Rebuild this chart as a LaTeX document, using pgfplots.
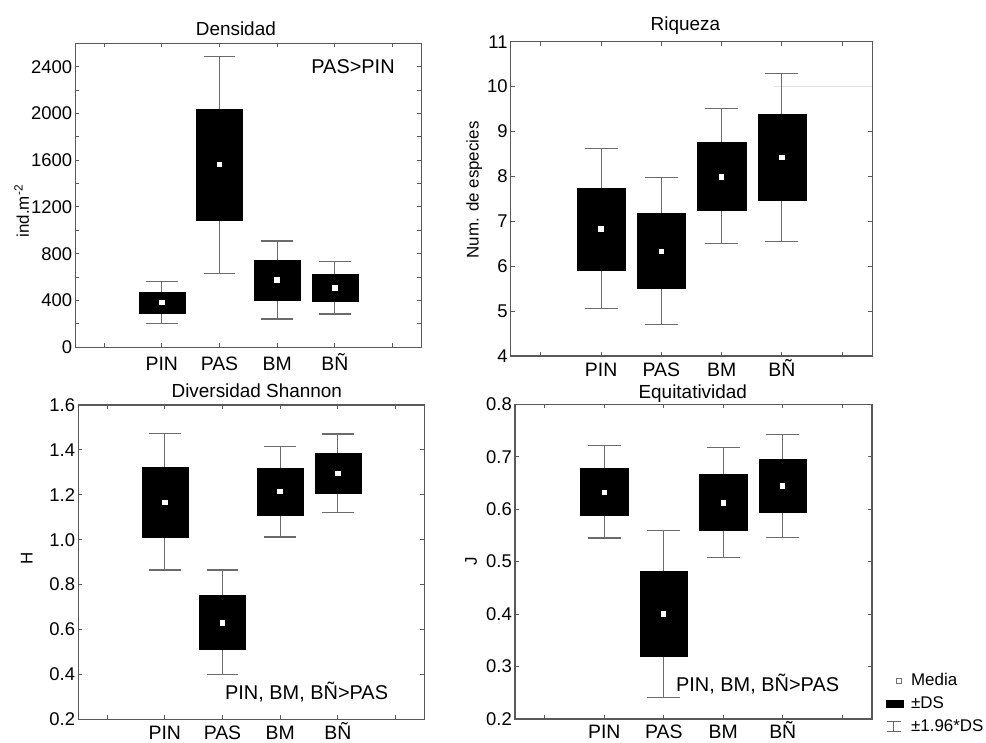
\documentclass[border=0pt]{standalone}
\usepackage{fontspec}
\setmainfont{Liberation Sans}
\usepackage{pgfplots}
\pgfplotsset{compat=1.18}

\definecolor{framegray}{gray}{0.35}
\definecolor{whiskgray}{gray}{0.42}

\tikzset{annot/.style={anchor=base west, inner sep=0pt, font=\fontsize{20}{22}\selectfont}}

\pgfplotsset{
  panel/.style={
    scale only axis, anchor=south west,
    xmin=-0.5, xmax=5.5,
    xtick={0,1,2,3,4,5},
    xticklabels={,PIN,PAS,BM,BÑ,},
    tick align=inside, tick pos=both,
    major tick length=4bp, minor tick length=4bp,
    axis line style={draw=framegray, line width=1.1bp},
    tick style={draw=framegray, line width=1bp},
    xticklabel style={font=\fontsize{19.5}{21}\selectfont, inner sep=0pt, text height=14bp, text depth=0pt},
    yticklabel style={font=\fontsize{18.5}{20}\selectfont, inner sep=0pt, xshift=-3bp},
    ylabel style={font=\fontsize{17}{19}\selectfont, anchor=center},
    every axis title/.style={font=\fontsize{19}{21}\selectfont, anchor=base},
    unbounded coords=jump,
    clip=false,
  },
  whisk/.style={draw=whiskgray, line width=1.1bp, mark=none},
  box/.style={draw=black, fill=black, line width=0.4bp, mark=none},
  meanmark/.style={only marks, mark=square*, mark size=2.2bp, mark options={fill=white, draw=white, line width=0pt}},
}

\begin{document}
\begin{tikzpicture}
\path[use as bounding box] (0,0) rectangle (986bp,743bp);

% ---------------- Densidad ----------------
\begin{axis}[panel, at={(75.3bp,395.7bp)}, width=346bp, height=304bp,
  ymin=0, ymax=2600,
  ytick={0,400,800,1200,1600,2000,2400}, yticklabels={0,400,800,1200,1600,2000,2400},
  minor ytick={200,600,1000,1400,1800,2200},
  xticklabel style={yshift=-9.4bp},
  ylabel={ind.m\textsuperscript{-2}}, ylabel style={at={(axis description cs:-0.155,0.448)}},
  title={Densidad}, title style={at={(axis description cs:0.464,1.027)}}]
% whiskers (+-1.96*DS)
\addplot[whisk] coordinates {
 (0.725,561) (1.275,561) (nan,nan) (1,561) (1,205) (nan,nan) (0.725,205) (1.275,205) (nan,nan)
 (1.725,2490) (2.275,2490) (nan,nan) (2,2490) (2,632) (nan,nan) (1.725,632) (2.275,632) (nan,nan)
 (2.725,909) (3.275,909) (nan,nan) (3,909) (3,242) (nan,nan) (2.725,242) (3.275,242) (nan,nan)
 (3.725,735) (4.275,735) (nan,nan) (4,735) (4,285) (nan,nan) (3.725,285) (4.275,285)};
% boxes (+-DS)
\addplot[box] coordinates {(0.6,291) (1.4,291) (1.4,475) (0.6,475)} --cycle;
\addplot[box] coordinates {(1.6,1088) (2.4,1088) (2.4,2040) (1.6,2040)} --cycle;
\addplot[box] coordinates {(2.6,404) (3.4,404) (3.4,746) (2.6,746)} --cycle;
\addplot[box] coordinates {(3.6,390) (4.4,390) (4.4,621) (3.6,621)} --cycle;
% means
\addplot[meanmark] coordinates {(1,385) (2,1565) (3,575) (4,507)};
\node[annot] at (axis cs:3.591,2343) {PAS>PIN};
\end{axis}

% ---------------- Riqueza ----------------
\begin{axis}[panel, at={(510.7bp,387bp)}, width=361.6bp, height=314.3bp,
  ymin=4, ymax=11,
  ytick={4,5,6,7,8,9,10,11}, yticklabels={4,5,6,7,8,9,10,11},
  xticklabel style={yshift=-6bp},
  ylabel={Num. de especies}, ylabel style={at={(axis description cs:-0.1007,0.528)}},
  title={Riqueza}, title style={at={(axis description cs:0.483,1.035)}}]
\addplot[black!12, line width=0.8bp, mark=none] coordinates {(3.87,10) (5.5,10)};
\addplot[whisk] coordinates {
 (0.725,8.62) (1.275,8.62) (nan,nan) (1,8.62) (1,5.05) (nan,nan) (0.725,5.05) (1.275,5.05) (nan,nan)
 (1.725,7.98) (2.275,7.98) (nan,nan) (2,7.98) (2,4.71) (nan,nan) (1.725,4.71) (2.275,4.71) (nan,nan)
 (2.725,9.52) (3.275,9.52) (nan,nan) (3,9.52) (3,6.50) (nan,nan) (2.725,6.50) (3.275,6.50) (nan,nan)
 (3.725,10.30) (4.275,10.30) (nan,nan) (4,10.30) (4,6.55) (nan,nan) (3.725,6.55) (4.275,6.55)};
\addplot[box] coordinates {(0.6,5.92) (1.4,5.92) (1.4,7.74) (0.6,7.74)} --cycle;
\addplot[box] coordinates {(1.6,5.50) (2.4,5.50) (2.4,7.18) (1.6,7.18)} --cycle;
\addplot[box] coordinates {(2.6,7.24) (3.4,7.24) (3.4,8.77) (2.6,8.77)} --cycle;
\addplot[box] coordinates {(3.6,7.46) (4.4,7.46) (4.4,9.38) (3.6,9.38)} --cycle;
\addplot[meanmark] coordinates {(1,6.83) (2,6.33) (3,7.99) (4,8.42)};
\end{axis}

% ---------------- Diversidad Shannon ----------------
\begin{axis}[panel, at={(78.3bp,23.7bp)}, width=346bp, height=314.3bp,
  ymin=0.2, ymax=1.6,
  ytick={0.2,0.4,0.6,0.8,1.0,1.2,1.4,1.6}, yticklabels={0.2,0.4,0.6,0.8,1.0,1.2,1.4,1.6},
  xticklabel style={yshift=-6bp},
  ylabel={H}, ylabel style={at={(axis description cs:-0.149,0.512)}},
  title={Diversidad Shannon}, title style={at={(axis description cs:0.516,1.0245)}}]
\addplot[whisk] coordinates {
 (0.725,1.475) (1.275,1.475) (nan,nan) (1,1.475) (1,0.865) (nan,nan) (0.725,0.865) (1.275,0.865) (nan,nan)
 (1.725,0.865) (2.275,0.865) (nan,nan) (2,0.865) (2,0.399) (nan,nan) (1.725,0.399) (2.275,0.399) (nan,nan)
 (2.725,1.417) (3.275,1.417) (nan,nan) (3,1.417) (3,1.012) (nan,nan) (2.725,1.012) (3.275,1.012) (nan,nan)
 (3.725,1.471) (4.275,1.471) (nan,nan) (4,1.471) (4,1.122) (nan,nan) (3.725,1.122) (4.275,1.122)};
\addplot[box] coordinates {(0.6,1.013) (1.4,1.013) (1.4,1.325) (0.6,1.325)} --cycle;
\addplot[box] coordinates {(1.6,0.512) (2.4,0.512) (2.4,0.751) (1.6,0.751)} --cycle;
\addplot[box] coordinates {(2.6,1.111) (3.4,1.111) (3.4,1.318) (2.6,1.318)} --cycle;
\addplot[box] coordinates {(3.6,1.207) (4.4,1.207) (4.4,1.385) (3.6,1.385)} --cycle;
\addplot[meanmark] coordinates {(1,1.167) (2,0.629) (3,1.214) (4,1.294)};
\node[annot] at (axis cs:2.042,0.286) {PIN, BM, BÑ>PAS};
\end{axis}

% ---------------- Equitatividad ----------------
\begin{axis}[panel, at={(515bp,24bp)}, width=357bp, height=314.7bp,
  ymin=0.2, ymax=0.8,
  ytick={0.2,0.3,0.4,0.5,0.6,0.7,0.8}, yticklabels={0.2,0.3,0.4,0.5,0.6,0.7,0.8},
  xticklabel style={yshift=-5.3bp},
  ylabel={J}, ylabel style={at={(axis description cs:-0.1227,0.5)}},
  title={Equitatividad}, title style={at={(axis description cs:0.498,1.019)}},
  legend style={at={(axis description cs:1.039,0.1487)}, anchor=north west, draw=none, fill=none, inner sep=0pt,
    font=\fontsize{17}{19}\selectfont, row sep=6bp, column sep=6bp, nodes={inner sep=1bp, text height=12bp, text depth=3bp}},
  legend cell align=left]
\addplot[forget plot, whisk] coordinates {
 (0.725,0.722) (1.275,0.722) (nan,nan) (1,0.722) (1,0.545) (nan,nan) (0.725,0.545) (1.275,0.545) (nan,nan)
 (1.725,0.560) (2.275,0.560) (nan,nan) (2,0.560) (2,0.241) (nan,nan) (1.725,0.241) (2.275,0.241) (nan,nan)
 (2.725,0.718) (3.275,0.718) (nan,nan) (3,0.718) (3,0.508) (nan,nan) (2.725,0.508) (3.275,0.508) (nan,nan)
 (3.725,0.743) (4.275,0.743) (nan,nan) (4,0.743) (4,0.546) (nan,nan) (3.725,0.546) (4.275,0.546)};
\addplot[forget plot, box] coordinates {(0.6,0.588) (1.4,0.588) (1.4,0.679) (0.6,0.679)} --cycle;
\addplot[forget plot, box] coordinates {(1.6,0.320) (2.4,0.320) (2.4,0.482) (1.6,0.482)} --cycle;
\addplot[forget plot, box] coordinates {(2.6,0.560) (3.4,0.560) (3.4,0.667) (2.6,0.667)} --cycle;
\addplot[forget plot, box] coordinates {(3.6,0.594) (4.4,0.594) (4.4,0.695) (3.6,0.695)} --cycle;
\addplot[forget plot, meanmark] coordinates {(1,0.632) (2,0.400) (3,0.612) (4,0.644)};
\node[annot] at (axis cs:2.205,0.252) {PIN, BM, BÑ>PAS};
\addlegendimage{draw=none, fill=none, legend image code/.code={\draw[black!55, fill=white, line width=0.8bp] (10bp,-2.5bp) rectangle (15bp,2.5bp); \path[draw=none, fill=none] (0bp,-3bp) rectangle (18bp,3bp);}}
\addlegendentry{Media}
\addlegendimage{draw=none, fill=none, legend image code/.code={\fill[black] (0bp,-3.7bp) rectangle (18bp,3.7bp);}}
\addlegendentry{±DS}
\addlegendimage{draw=none, fill=none, legend image code/.code={\draw[black!60, line width=0.9bp] (0.5bp,-5bp) -- (15bp,-5bp) (7.7bp,-5bp) -- (7.7bp,5bp) (0.5bp,5bp) -- (15bp,5bp); \path[draw=none, fill=none] (0bp,-3bp) rectangle (18bp,3bp);}}
\addlegendentry{±1.96*DS}
\end{axis}
\end{tikzpicture}
\end{document}
